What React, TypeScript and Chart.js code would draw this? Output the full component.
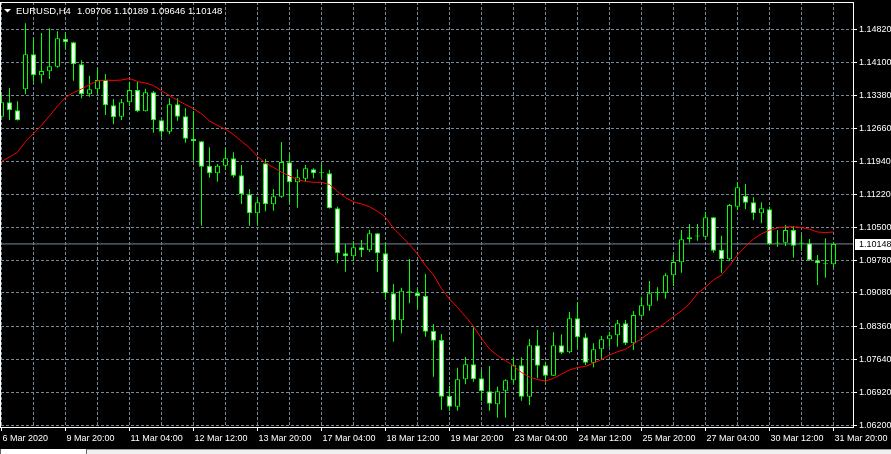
import React, { useEffect, useRef } from 'react';
import { Chart, registerables } from 'chart.js';

Chart.register(...registerables);

const SYMBOL = 'EURUSD,H4';

const TIME_LABELS = [
  '6 Mar 2020', '9 Mar 20:00', '11 Mar 04:00', '12 Mar 12:00', '13 Mar 20:00',
  '17 Mar 04:00', '18 Mar 12:00', '19 Mar 20:00', '23 Mar 04:00', '24 Mar 12:00',
  '25 Mar 20:00', '27 Mar 04:00', '30 Mar 12:00', '31 Mar 20:00',
];

const PRICE_TICKS = [
  1.1482, 1.141, 1.1338, 1.1266, 1.1194, 1.1122, 1.105,
  1.0978, 1.0908, 1.0836, 1.0764, 1.0692, 1.062,
];

const OPEN = [
  1.12918, 1.13231, 1.13057, 1.13514, 1.14276, 1.13819, 1.13906, 1.14006, 1.14615, 1.14537,
  1.14058, 1.13405, 1.13514, 1.13716, 1.13166, 1.12918, 1.13231, 1.13499, 1.13035, 1.13449,
  1.12839, 1.12591, 1.13187, 1.12926, 1.12439, 1.12382, 1.11851, 1.11685, 1.11851, 1.12012,
  1.11642, 1.11228, 1.10815, 1.11903, 1.11011, 1.11176, 1.11925, 1.1149, 1.11568, 1.11773,
  1.11685, 1.11685, 1.10924, 1.09944, 1.09879, 1.10075, 1.10009, 1.10379, 1.09944, 1.09073,
  1.08486, 1.09086, 1.09086, 1.09015, 1.08253, 1.08057, 1.06838, 1.06605, 1.07201, 1.07528,
  1.07223, 1.0694, 1.06657, 1.06953, 1.07179, 1.07506, 1.06822, 1.07941, 1.07506, 1.0728,
  1.07941, 1.07789, 1.08529, 1.08115, 1.07563, 1.07854, 1.08072, 1.08159, 1.0842, 1.07985,
  1.08586, 1.08803, 1.0908, 1.09086, 1.09465, 1.09748, 1.10249, 1.10307, 1.10305, 1.10728,
  1.10016, 1.09813, 1.10958, 1.11191, 1.11054, 1.10815, 1.10902, 1.10157, 1.10175, 1.10451,
  1.10157, 1.10162, 1.09792, 1.09718, 1.09706,
];

const HIGH = [
  1.13405, 1.13542, 1.13253, 1.14951, 1.14624, 1.14739, 1.14842, 1.14776, 1.14755, 1.1455,
  1.14145, 1.1381, 1.13971, 1.13847, 1.13303, 1.13303, 1.13679, 1.13679, 1.13527, 1.13477,
  1.12857, 1.13318, 1.13318, 1.131, 1.13042, 1.12389, 1.12251, 1.11888, 1.1223, 1.12143,
  1.11866, 1.11344, 1.11176, 1.11997, 1.11344, 1.12367, 1.12121, 1.11773, 1.11866, 1.11794,
  1.11888, 1.11757, 1.10958, 1.10146, 1.10212, 1.10234, 1.10451, 1.10386, 1.10183, 1.09276,
  1.09195, 1.0982, 1.09182, 1.09493, 1.08405, 1.08187, 1.07055, 1.07454, 1.07687, 1.08333,
  1.07404, 1.07491, 1.0704, 1.07201, 1.07693, 1.0768, 1.08078, 1.08274, 1.07584, 1.08224,
  1.08181, 1.08666, 1.08877, 1.08203, 1.07985, 1.08144, 1.08237, 1.08492, 1.08492, 1.08688,
  1.08999, 1.09341, 1.09204, 1.09509, 1.09914, 1.10451, 1.10582, 1.10582, 1.1085, 1.10734,
  1.10327, 1.11017, 1.1149, 1.11453, 1.11163, 1.11054, 1.10958, 1.10451, 1.1056, 1.10538,
  1.10342, 1.10255, 1.09907, 1.10271, 1.10189,
];

const LOW = [
  1.12911, 1.12846, 1.12835, 1.13405, 1.13679, 1.13645, 1.13738, 1.13984, 1.14385, 1.13701,
  1.13318, 1.13353, 1.13405, 1.12955, 1.12752, 1.12846, 1.1315, 1.13013, 1.13031, 1.12569,
  1.12482, 1.12534, 1.1283, 1.12352, 1.1196, 1.10545, 1.1159, 1.11503, 1.11757, 1.1159,
  1.11017, 1.10545, 1.10545, 1.10858, 1.10871, 1.11154, 1.11045, 1.10937, 1.11503, 1.11577,
  1.11577, 1.10919, 1.09726, 1.09543, 1.09776, 1.09857, 1.09979, 1.09543, 1.08943, 1.0802,
  1.08203, 1.08856, 1.08747, 1.08129, 1.07258, 1.06533, 1.06518, 1.06518, 1.07092, 1.07149,
  1.06735, 1.06518, 1.06365, 1.06365, 1.07114, 1.06735, 1.06642, 1.07223, 1.07149, 1.07273,
  1.07752, 1.07767, 1.07876, 1.07513, 1.07462, 1.07621, 1.07911, 1.07911, 1.07948, 1.07839,
  1.08564, 1.08695, 1.08912, 1.08956, 1.09232, 1.09522, 1.10175, 1.10218, 1.10271, 1.09957,
  1.09522, 1.09783, 1.10887, 1.10902, 1.10669, 1.10597, 1.10118, 1.10088, 1.10103, 1.09848,
  1.10001, 1.09783, 1.09254, 1.09413, 1.09646,
];

const CLOSE = [
  1.13231, 1.13057, 1.12839, 1.14276, 1.13819, 1.13912, 1.14015, 1.14624, 1.14537, 1.14058,
  1.13405, 1.13514, 1.13716, 1.13166, 1.12904, 1.13231, 1.13499, 1.13035, 1.13449, 1.12839,
  1.12591, 1.13187, 1.12918, 1.12439, 1.12382, 1.11829, 1.11685, 1.11851, 1.12012, 1.11633,
  1.11228, 1.10815, 1.11054, 1.11011, 1.11185, 1.11931, 1.1149, 1.11598, 1.11794, 1.11685,
  1.11692, 1.10924, 1.09944, 1.09879, 1.10075, 1.10009, 1.10379, 1.09944, 1.09073, 1.08486,
  1.0913, 1.09117, 1.09015, 1.08237, 1.08041, 1.06822, 1.06605, 1.07201, 1.07528, 1.07201,
  1.0694, 1.0667, 1.0694, 1.07179, 1.07506, 1.06822, 1.07941, 1.07497, 1.0728, 1.07941,
  1.0778, 1.08529, 1.08115, 1.07563, 1.07854, 1.08072, 1.08159, 1.0842, 1.07985, 1.08601,
  1.08812, 1.09073, 1.09091, 1.09465, 1.09755, 1.10249, 1.10292, 1.10316, 1.10728, 1.10001,
  1.09813, 1.10995, 1.11381, 1.11045, 1.10815, 1.10924, 1.1014, 1.10179, 1.10451, 1.10109,
  1.10166, 1.09792, 1.09726, 1.09706, 1.10148,
];

const MA = [
  1.11942, 1.1204, 1.12143, 1.12378, 1.12556, 1.1273, 1.12933, 1.1315, 1.13335, 1.13444,
  1.1352, 1.13618, 1.13695, 1.13716, 1.13706, 1.13716, 1.13749, 1.13684, 1.13651, 1.13597,
  1.13483, 1.13379, 1.13275, 1.13183, 1.13092, 1.12981, 1.12824, 1.12726, 1.12643, 1.1253,
  1.12382, 1.12243, 1.12051, 1.1191, 1.11812, 1.11714, 1.11627, 1.1155, 1.11507, 1.1149,
  1.1149, 1.11442, 1.11289, 1.11154, 1.11067, 1.11017, 1.10958, 1.10858, 1.10728, 1.10488,
  1.10314, 1.10136, 1.09929, 1.09678, 1.09472, 1.09178, 1.08949, 1.08764, 1.08568, 1.08351,
  1.08089, 1.07861, 1.07719, 1.0761, 1.07491, 1.07349, 1.07251, 1.07197, 1.07164, 1.07223,
  1.07317, 1.07404, 1.07458, 1.07484, 1.07556, 1.07632, 1.0773, 1.07802, 1.07854, 1.0797,
  1.08089, 1.08209, 1.08307, 1.08433, 1.08564, 1.08695, 1.08847, 1.09069, 1.0921, 1.09363,
  1.09472, 1.09672, 1.09907, 1.10092, 1.10255, 1.10368, 1.10447, 1.10495, 1.10521, 1.10521,
  1.10506, 1.10469, 1.10408, 1.10395, 1.10408,
];

const BID = 1.10148;

const FONT = 'Liberation Sans';
const GREEN = '#00ff00';
const GRID = '#778899';

export default function App() {
  const ref = useRef<HTMLCanvasElement>(null);

  useEffect(() => {
    document.body.style.margin = '0';
    document.body.style.background = '#000';
    const canvas = ref.current;
    if (!canvas) return;

    const n = OPEN.length;
    const idx = OPEN.map((_, i) => i);
    const xMin = -0.0625;
    const xMax = n - 1 + 2.4375;
    const yMin = 1.061629;
    const yMax = 1.154143;

    const bodies = idx.map((i) => ({ x: i, y: [OPEN[i], CLOSE[i]] }));
    const wicks = idx.map((i) => ({ x: i, y: [LOW[i], HIGH[i]] }));
    const ma = idx.map((i) => ({ x: i, y: MA[i] }));
    const bidLine = [
      { x: xMin, y: BID },
      { x: xMax, y: BID },
    ];
    const xTicks = idx.filter((i) => i % 4 === 0);

    const mt4Plugin = {
      id: 'mt4',
      beforeDraw(chart: any) {
        const { ctx, width, height } = chart;
        ctx.save();
        ctx.fillStyle = '#000';
        ctx.fillRect(0, 0, width, height);
        ctx.restore();
      },
      afterDraw(chart: any) {
        const { ctx, chartArea: a, width } = chart;
        ctx.save();
        // frame
        ctx.strokeStyle = '#ffffff';
        ctx.lineWidth = 1;
        ctx.setLineDash([]);
        ctx.strokeRect(a.left - 0.5, a.top + 0.5, a.right - a.left + 1, a.bottom - a.top);
        // bid label
        const y = chart.scales.y.getPixelForValue(BID);
        ctx.fillStyle = '#ffffff';
        ctx.fillRect(a.right + 2, Math.round(y) - 5, width - a.right - 2, 11);
        ctx.fillStyle = '#000000';
        ctx.font = `9px "${FONT}"`;
        ctx.textBaseline = 'middle';
        ctx.textAlign = 'left';
        ctx.fillText(BID.toFixed(5), a.right + 6, Math.round(y) + 0.5);
        // title
        ctx.fillStyle = '#ffffff';
        ctx.beginPath();
        ctx.moveTo(4, 9);
        ctx.lineTo(11, 9);
        ctx.lineTo(7.5, 12.5);
        ctx.closePath();
        ctx.fill();
        ctx.font = `9.5px "${FONT}"`;
        ctx.textBaseline = 'alphabetic';
        ctx.fillText(SYMBOL, 16, 14);
        const last = n - 1;
        const ohlc = [OPEN[last], HIGH[last], LOW[last], CLOSE[last]]
          .map((v) => v.toFixed(5))
          .join(' ');
        ctx.fillText(ohlc, 77, 14);
        ctx.restore();
      },
    };

    const bodyColor = (c: any) => {
      const raw = c.raw;
      if (!raw || !raw.y) return '#000';
      const [o, cl] = raw.y;
      const ys = c.chart.scales.y;
      if (ys && Math.abs(ys.getPixelForValue(o) - ys.getPixelForValue(cl)) < 2) return GREEN;
      return cl >= o ? '#000000' : '#ffffff';
    };

    const chart = new Chart(canvas, {
      type: 'bar',
      data: {
        datasets: [
          {
            type: 'line',
            data: ma,
            borderColor: '#ff0000',
            borderWidth: 1,
            pointRadius: 0,
            tension: 0,
            order: 0,
          } as any,
          {
            type: 'bar',
            data: bodies,
            barThickness: 5,
            borderWidth: 1,
            borderColor: GREEN,
            borderSkipped: false,
            backgroundColor: bodyColor,
            grouped: false,
            minBarLength: 1,
            inflateAmount: 0,
            order: 1,
          } as any,
          {
            type: 'bar',
            data: wicks,
            barThickness: 1,
            borderWidth: 0,
            backgroundColor: GREEN,
            grouped: false,
            inflateAmount: 0,
            order: 2,
          } as any,
          {
            type: 'line',
            data: bidLine,
            borderColor: GRID,
            borderWidth: 1,
            pointRadius: 0,
            order: 3,
          } as any,
        ],
      },
      options: {
        responsive: false,
        animation: false,
        devicePixelRatio: 1,
        events: [],
        layout: { padding: { left: 1, top: 2, right: 0, bottom: 0 } },
        plugins: {
          legend: { display: false },
          tooltip: { enabled: false },
          title: { display: false },
        },
        scales: {
          x: {
            type: 'linear',
            position: 'bottom',
            min: xMin,
            max: xMax,
            offset: false,
            afterBuildTicks: (s: any) => {
              s.ticks = xTicks.map((v) => ({ value: v }));
            },
            afterFit: (s: any) => {
              s.height = 22;
              s.paddingLeft = 0;
              s.paddingRight = 0;
            },
            grid: {
              color: GRID,
              lineWidth: 1,
              offset: false,
              drawTicks: true,
              tickLength: 4,
              tickColor: (c: any) =>
                c.tick && c.tick.value % 8 === 0 ? '#ffffff' : 'rgba(0,0,0,0)',
              tickBorderDash: [],
            },
            border: { display: false, dash: [3, 2] },
            ticks: {
              color: '#ffffff',
              font: { family: FONT, size: 9 },
              autoSkip: false,
              maxRotation: 0,
              minRotation: 0,
              align: 'start',
              labelOffset: 1,
              padding: 2,
              callback: (v: any) => (Number(v) % 8 === 0 ? TIME_LABELS[Number(v) / 8] : ''),
            },
          } as any,
          y: {
            type: 'linear',
            position: 'right',
            min: yMin,
            max: yMax,
            afterBuildTicks: (s: any) => {
              s.ticks = PRICE_TICKS.map((v) => ({ value: v }));
            },
            afterFit: (s: any) => {
              s.width = 38;
              s.paddingTop = 0;
              s.paddingBottom = 0;
            },
            grid: {
              color: GRID,
              lineWidth: 1,
              drawTicks: true,
              tickLength: 4,
              tickColor: '#ffffff',
              tickBorderDash: [],
            },
            border: { display: false, dash: [3, 2] },
            ticks: {
              color: '#ffffff',
              font: { family: FONT, size: 9 },
              autoSkip: false,
              padding: 2,
              callback: (v: any) => Number(v).toFixed(5),
            },
          } as any,
        },
      } as any,
      plugins: [mt4Plugin],
    });

    return () => chart.destroy();
  }, []);

  return (
    <div style={{ position: 'relative', width: 891, height: 454, background: '#000', overflow: 'hidden' }}>
      <canvas ref={ref} width={891} height={449} style={{ display: 'block', width: 891, height: 449 }} />
      <div
        style={{
          position: 'absolute',
          left: 0,
          top: 449,
          width: 891,
          height: 5,
          background: '#f0f0f0',
          borderTop: '1px solid #a0a0a0',
          boxSizing: 'border-box',
        }}
      >
        <div
          style={{
            position: 'absolute',
            left: 0,
            top: -1,
            width: 87,
            height: 5,
            background: '#ffffff',
            borderLeft: '1px solid #646464',
            borderRight: '1px solid #646464',
            boxSizing: 'border-box',
          }}
        />
      </div>
    </div>
  );
}
